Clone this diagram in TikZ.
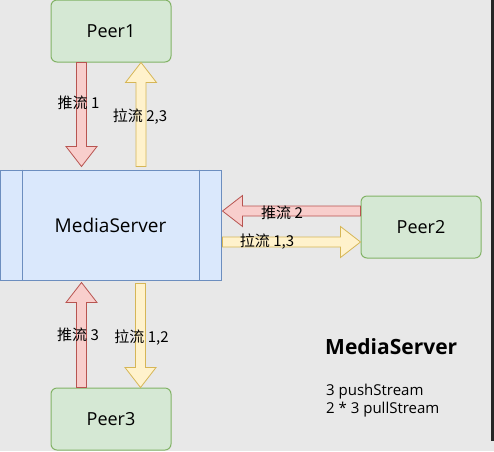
\documentclass[tikz,border=0pt]{standalone}
\usepackage{fontspec}
\setmainfont{Open Sans}
\newfontfamily\cjk{Noto Sans CJK SC}
\usetikzlibrary{calc}
\definecolor{bgcol}{HTML}{E8E8E8}
\definecolor{peerfill}{HTML}{D5E8D4}
\definecolor{peerline}{HTML}{82B366}
\definecolor{msfill}{HTML}{DAE8FC}
\definecolor{msline}{HTML}{6C8EBF}
\definecolor{pushfill}{HTML}{F8CECC}
\definecolor{pushline}{HTML}{B85450}
\definecolor{pullfill}{HTML}{FFF2CC}
\definecolor{pullline}{HTML}{D6B656}
\tikzset{
  peer/.style={draw=peerline,fill=peerfill,rounded corners=6,line width=1,
    minimum width=120,minimum height=62,font=\fontsize{18}{22}\selectfont},
  server/.style={draw=msline,fill=msfill,line width=1,
    minimum width=221,minimum height=110,font=\fontsize{19}{24}\selectfont},
  pushar/.style={draw=pushline,fill=pushfill,line width=0.8},
  pullar/.style={draw=pullline,fill=pullfill,line width=0.8},
  lbl/.style={font=\cjk\fontsize{15}{17}\selectfont,inner sep=0}
}
\newcommand{\fatarrow}[3]{%
\draw[#1] let \p1=(#2), \p2=(#3), \n1={atan2(\y2-\y1,\x2-\x1)}, \n2={veclen(\x2-\x1,\y2-\y1)} in
  [shift={(\p1)},rotate=\n1] (0pt,5pt) -- ({\n2*1pt-20pt},5pt) -- ({\n2*1pt-20pt},15.5pt)
  -- ({\n2*1pt},0pt) -- ({\n2*1pt-20pt},-15.5pt) -- ({\n2*1pt-20pt},-5pt) -- (0pt,-5pt) -- cycle;}

\begin{document}
\begin{tikzpicture}[x=1pt,y=-1pt]
\fill[bgcol] (0,0) rectangle (494,451);
\useasboundingbox (0,0) rectangle (494,451);
\fill[black!85] (491,0) rectangle (494,441);
\node[peer] (peer1) at (111,31) {Peer1};
\node[server] (ms) at (110.5,225) {MediaServer};
\draw[msline,line width=1] ($(ms.north west)+(23,0)$) -- ($(ms.south west)+(23,0)$);
\draw[msline,line width=1] ($(ms.north east)+(-22,0)$) -- ($(ms.south east)+(-22,0)$);
\node[peer] (peer2) at (421,227) {Peer2};
\node[peer] (peer3) at (111,419) {Peer3};
\fatarrow{pushar}{$(peer1.south)+(-29.5,0)$}{$(peer1.south |- ms.north)+(-29.5,-3)$}
\fatarrow{pullar}{$(peer1.south |- ms.north)+(30,-3)$}{$(peer1.south)+(30,0)$}
\fatarrow{pushar}{$(peer2.west)+(0,-16)$}{$(ms.east |- peer2.west)+(1,-16)$}
\fatarrow{pullar}{$(ms.east |- peer2.west)+(1,15)$}{$(peer2.west)+(0,15)$}
\fatarrow{pushar}{$(peer3.north)+(-29.5,0)$}{$(peer3.north |- ms.south)+(-29.5,2)$}
\fatarrow{pullar}{$(peer3.north |- ms.south)+(29.5,3)$}{$(peer3.north)+(29.5,0)$}
\node[lbl] (push1) at (78.5,103) {推流 1};
\node[lbl] (pull1) at (140,117) {拉流 2,3};
\node[lbl] (push2) at (282,213) {推流 2};
\node[lbl] (pull2) at (267,242) {拉流 1,3};
\node[lbl] (push3) at (78,335) {推流 3};
\node[lbl] (pull3) at (141.5,338) {拉流 1,2};
\node[anchor=west,inner sep=0,font=\bfseries\fontsize{21}{26}\selectfont] (title) at (325,347) {MediaServer};
\node[anchor=west,inner sep=0,align=left,font=\fontsize{15}{18}\selectfont] (stats) at (326,401) {3 pushStream\\2 * 3 pullStream};
\end{tikzpicture}
\end{document}
